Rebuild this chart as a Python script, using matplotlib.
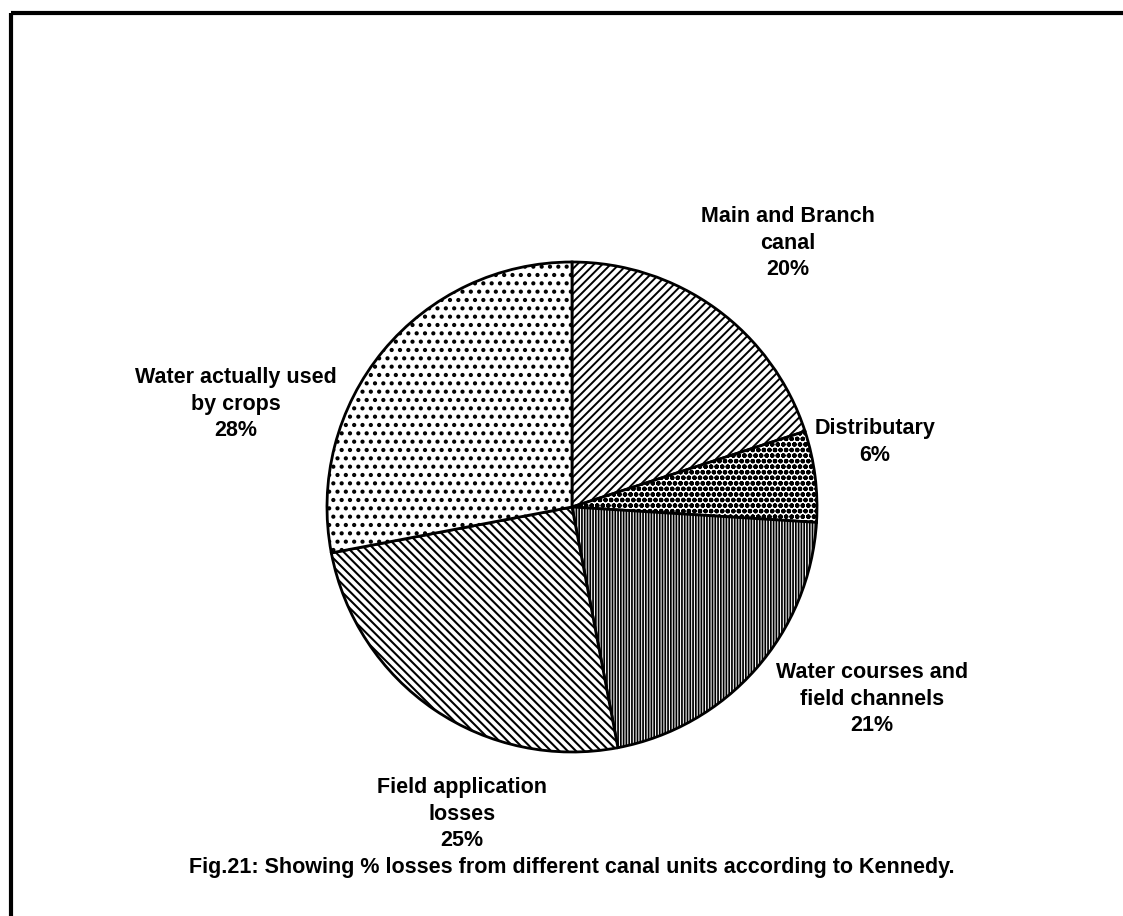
import matplotlib
matplotlib.use("Agg")
import matplotlib.pyplot as plt

# share of canal water lost in each unit (Kennedy)
units = ["Main and Branch\ncanal", "Distributary", "Water courses and\nfield channels",
         "Field application\nlosses", "Water actually used\nby crops"]
shares = [20, 6, 21, 25, 28]
hatches = ["////", "ooo", "||||||", "\\\\\\\\", ".."]
hatch_lw = [1.4, 1.6, 1.25, 1.5, 1.8]

# label centres (x, y of first line) in pixel space, y measured from top
label_xy = [(788, 206), (875, 418), (872, 662), (462, 777), (236, 367)]

W, H = 1123, 916
plt.rcParams["font.family"] = ["Liberation Sans", "DejaVu Sans"]
plt.rcParams["hatch.linewidth"] = 1.3

fig = plt.figure(figsize=(W / 100, H / 100), dpi=100)
ax = fig.add_axes([0, 0, 1, 1])

wedges, _ = ax.pie(shares, startangle=90, counterclock=False,
                   center=(572, H - 507), radius=245,
                   wedgeprops=dict(facecolor="white", edgecolor="black", linewidth=2))
for w, h, lw in zip(wedges, hatches, hatch_lw):
    w.set_hatch(h)
    if hasattr(w, "set_hatch_linewidth"):
        w.set_hatch_linewidth(lw)

for (x, y), name, s in zip(label_xy, units, shares):
    ax.text(x, H - y, f"{name}\n{s}%", ha="center", va="top", fontsize=15.5,
            fontweight="bold", linespacing=1.35)

ax.text(572, H - 867, "Fig.21: Showing % losses from different canal units according to Kennedy.",
        ha="center", va="center", fontsize=15.5, fontweight="bold")

# page border: only top and left edges
ax.plot([11, W], [H - 13, H - 13], color="black", lw=3, solid_capstyle="butt")
ax.plot([11, 11], [H - 13, 0], color="black", lw=3, solid_capstyle="butt")

ax.set_xlim(0, W)
ax.set_ylim(0, H)
ax.set_aspect("equal")
ax.axis("off")

fig.savefig("out.png", dpi=100, facecolor="white")
